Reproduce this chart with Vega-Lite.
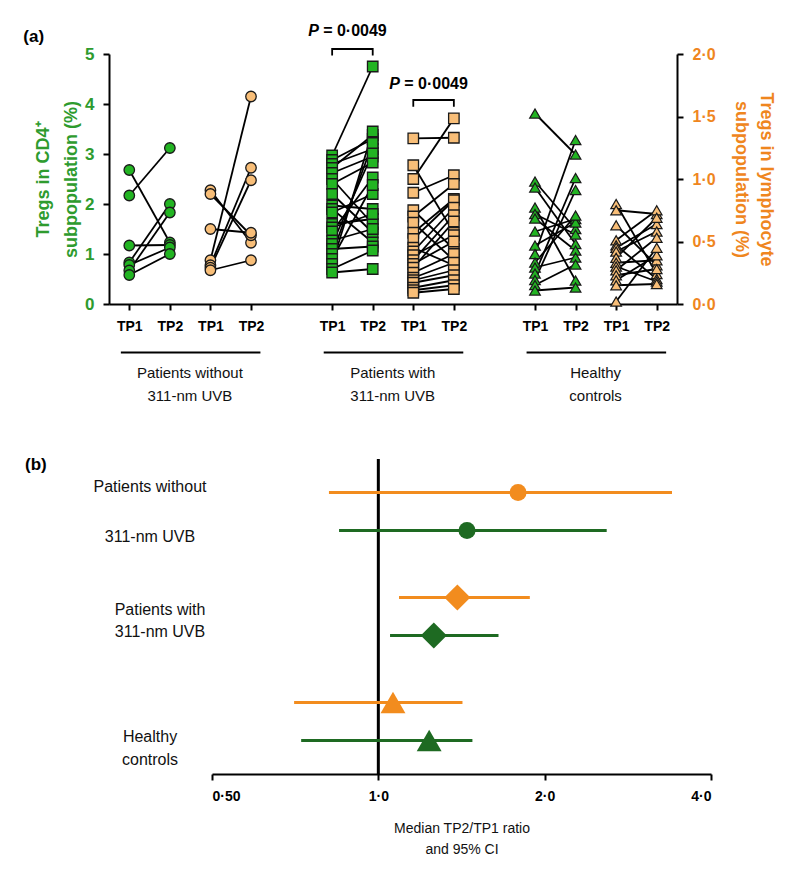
{
  "$schema": "https://vega.github.io/schema/vega-lite/v6.json",
  "background": "white",
  "padding": {"left": 23, "top": 22, "right": 5, "bottom": 5},
  "bounds": "flush",
  "spacing": 155,
  "config": {"font": "Liberation Sans", "view": {"stroke": null}},
  "datasets": {
    "cd4": [
      {"s":"w-C-TP1","g":"w","id":"w1","v":2.68},{"s":"w-C-TP2","g":"w","id":"w1","v":1.23},
      {"s":"w-C-TP1","g":"w","id":"w2","v":2.17},{"s":"w-C-TP2","g":"w","id":"w2","v":3.12},
      {"s":"w-C-TP1","g":"w","id":"w3","v":1.17},{"s":"w-C-TP2","g":"w","id":"w3","v":1.18},
      {"s":"w-C-TP1","g":"w","id":"w4","v":0.83},{"s":"w-C-TP2","g":"w","id":"w4","v":2.0},
      {"s":"w-C-TP1","g":"w","id":"w5","v":0.78},{"s":"w-C-TP2","g":"w","id":"w5","v":1.13},
      {"s":"w-C-TP1","g":"w","id":"w6","v":0.67},{"s":"w-C-TP2","g":"w","id":"w6","v":1.83},
      {"s":"w-C-TP1","g":"w","id":"w7","v":0.58},{"s":"w-C-TP2","g":"w","id":"w7","v":1.0},
      {"s":"u-C-TP1","g":"u","id":"u1","v":2.97},{"s":"u-C-TP2","g":"u","id":"u1","v":4.75},
      {"s":"u-C-TP1","g":"u","id":"u2","v":2.88},{"s":"u-C-TP2","g":"u","id":"u2","v":3.3},
      {"s":"u-C-TP1","g":"u","id":"u3","v":2.8},{"s":"u-C-TP2","g":"u","id":"u3","v":3.1},
      {"s":"u-C-TP1","g":"u","id":"u4","v":2.72},{"s":"u-C-TP2","g":"u","id":"u4","v":3.38},
      {"s":"u-C-TP1","g":"u","id":"u5","v":2.62},{"s":"u-C-TP2","g":"u","id":"u5","v":2.95},
      {"s":"u-C-TP1","g":"u","id":"u6","v":2.5},{"s":"u-C-TP2","g":"u","id":"u6","v":1.6},
      {"s":"u-C-TP1","g":"u","id":"u7","v":2.4},{"s":"u-C-TP2","g":"u","id":"u7","v":2.83},
      {"s":"u-C-TP1","g":"u","id":"u8","v":2.2},{"s":"u-C-TP2","g":"u","id":"u8","v":1.43},
      {"s":"u-C-TP1","g":"u","id":"u9","v":1.97},{"s":"u-C-TP2","g":"u","id":"u9","v":1.9},
      {"s":"u-C-TP1","g":"u","id":"u10","v":1.9},{"s":"u-C-TP2","g":"u","id":"u10","v":1.23},
      {"s":"u-C-TP1","g":"u","id":"u11","v":1.83},{"s":"u-C-TP2","g":"u","id":"u11","v":2.2},
      {"s":"u-C-TP1","g":"u","id":"u12","v":1.6},{"s":"u-C-TP2","g":"u","id":"u12","v":1.7},
      {"s":"u-C-TP1","g":"u","id":"u13","v":1.53},{"s":"u-C-TP2","g":"u","id":"u13","v":1.8},
      {"s":"u-C-TP1","g":"u","id":"u14","v":1.45},{"s":"u-C-TP2","g":"u","id":"u14","v":2.53},
      {"s":"u-C-TP1","g":"u","id":"u15","v":1.27},{"s":"u-C-TP2","g":"u","id":"u15","v":1.5},
      {"s":"u-C-TP1","g":"u","id":"u16","v":1.2},{"s":"u-C-TP2","g":"u","id":"u16","v":3.02},
      {"s":"u-C-TP1","g":"u","id":"u17","v":1.1},{"s":"u-C-TP2","g":"u","id":"u17","v":1.15},
      {"s":"u-C-TP1","g":"u","id":"u18","v":1.0},{"s":"u-C-TP2","g":"u","id":"u18","v":3.22},
      {"s":"u-C-TP1","g":"u","id":"u19","v":0.9},{"s":"u-C-TP2","g":"u","id":"u19","v":2.38},
      {"s":"u-C-TP1","g":"u","id":"u20","v":0.8},{"s":"u-C-TP2","g":"u","id":"u20","v":3.45},
      {"s":"u-C-TP1","g":"u","id":"u21","v":0.7},{"s":"u-C-TP2","g":"u","id":"u21","v":1.07},
      {"s":"u-C-TP1","g":"u","id":"u22","v":0.63},{"s":"u-C-TP2","g":"u","id":"u22","v":0.7},
      {"s":"h-C-TP1","g":"h","id":"h1","v":3.81},{"s":"h-C-TP2","g":"h","id":"h1","v":2.99},
      {"s":"h-C-TP1","g":"h","id":"h2","v":2.45},{"s":"h-C-TP2","g":"h","id":"h2","v":1.5},
      {"s":"h-C-TP1","g":"h","id":"h3","v":2.33},{"s":"h-C-TP2","g":"h","id":"h3","v":1.2},
      {"s":"h-C-TP1","g":"h","id":"h4","v":1.93},{"s":"h-C-TP2","g":"h","id":"h4","v":0.47},
      {"s":"h-C-TP1","g":"h","id":"h5","v":1.8},{"s":"h-C-TP2","g":"h","id":"h5","v":1.39},
      {"s":"h-C-TP1","g":"h","id":"h6","v":1.71},{"s":"h-C-TP2","g":"h","id":"h6","v":1.07},
      {"s":"h-C-TP1","g":"h","id":"h7","v":1.45},{"s":"h-C-TP2","g":"h","id":"h7","v":1.7},
      {"s":"h-C-TP1","g":"h","id":"h8","v":1.17},{"s":"h-C-TP2","g":"h","id":"h8","v":1.63},
      {"s":"h-C-TP1","g":"h","id":"h9","v":1.0},{"s":"h-C-TP2","g":"h","id":"h9","v":3.28},
      {"s":"h-C-TP1","g":"h","id":"h10","v":0.83},{"s":"h-C-TP2","g":"h","id":"h10","v":1.77},
      {"s":"h-C-TP1","g":"h","id":"h11","v":0.73},{"s":"h-C-TP2","g":"h","id":"h11","v":0.93},
      {"s":"h-C-TP1","g":"h","id":"h12","v":0.61},{"s":"h-C-TP2","g":"h","id":"h12","v":2.52},
      {"s":"h-C-TP1","g":"h","id":"h13","v":0.48},{"s":"h-C-TP2","g":"h","id":"h13","v":2.28},
      {"s":"h-C-TP1","g":"h","id":"h14","v":0.38},{"s":"h-C-TP2","g":"h","id":"h14","v":0.79},
      {"s":"h-C-TP1","g":"h","id":"h15","v":0.27},{"s":"h-C-TP2","g":"h","id":"h15","v":0.33}
    ],
    "lym": [
      {"s":"w-L-TP1","g":"w","id":"w1","v":0.91},{"s":"w-L-TP2","g":"w","id":"w1","v":0.49},
      {"s":"w-L-TP1","g":"w","id":"w2","v":0.88},{"s":"w-L-TP2","g":"w","id":"w2","v":0.55},
      {"s":"w-L-TP1","g":"w","id":"w3","v":0.6},{"s":"w-L-TP2","g":"w","id":"w3","v":0.57},
      {"s":"w-L-TP1","g":"w","id":"w4","v":0.35},{"s":"w-L-TP2","g":"w","id":"w4","v":1.66},
      {"s":"w-L-TP1","g":"w","id":"w5","v":0.31},{"s":"w-L-TP2","g":"w","id":"w5","v":1.09},
      {"s":"w-L-TP1","g":"w","id":"w6","v":0.29},{"s":"w-L-TP2","g":"w","id":"w6","v":0.99},
      {"s":"w-L-TP1","g":"w","id":"w7","v":0.27},{"s":"w-L-TP2","g":"w","id":"w7","v":0.35},
      {"s":"u-L-TP1","g":"u","id":"u1","v":1.325},{"s":"u-L-TP2","g":"u","id":"u1","v":1.33},
      {"s":"u-L-TP1","g":"u","id":"u2","v":1.11},{"s":"u-L-TP2","g":"u","id":"u2","v":0.57},
      {"s":"u-L-TP1","g":"u","id":"u3","v":1.0},{"s":"u-L-TP2","g":"u","id":"u3","v":1.485},
      {"s":"u-L-TP1","g":"u","id":"u4","v":0.89},{"s":"u-L-TP2","g":"u","id":"u4","v":1.03},
      {"s":"u-L-TP1","g":"u","id":"u5","v":0.75},{"s":"u-L-TP2","g":"u","id":"u5","v":0.44},
      {"s":"u-L-TP1","g":"u","id":"u6","v":0.7},{"s":"u-L-TP2","g":"u","id":"u6","v":0.96},
      {"s":"u-L-TP1","g":"u","id":"u7","v":0.65},{"s":"u-L-TP2","g":"u","id":"u7","v":0.35},
      {"s":"u-L-TP1","g":"u","id":"u8","v":0.57},{"s":"u-L-TP2","g":"u","id":"u8","v":0.84},
      {"s":"u-L-TP1","g":"u","id":"u9","v":0.52},{"s":"u-L-TP2","g":"u","id":"u9","v":0.83},
      {"s":"u-L-TP1","g":"u","id":"u10","v":0.45},{"s":"u-L-TP2","g":"u","id":"u10","v":0.31},
      {"s":"u-L-TP1","g":"u","id":"u11","v":0.42},{"s":"u-L-TP2","g":"u","id":"u11","v":0.77},
      {"s":"u-L-TP1","g":"u","id":"u12","v":0.39},{"s":"u-L-TP2","g":"u","id":"u12","v":0.55},
      {"s":"u-L-TP1","g":"u","id":"u13","v":0.35},{"s":"u-L-TP2","g":"u","id":"u13","v":0.71},
      {"s":"u-L-TP1","g":"u","id":"u14","v":0.32},{"s":"u-L-TP2","g":"u","id":"u14","v":0.5},
      {"s":"u-L-TP1","g":"u","id":"u15","v":0.29},{"s":"u-L-TP2","g":"u","id":"u15","v":0.66},
      {"s":"u-L-TP1","g":"u","id":"u16","v":0.25},{"s":"u-L-TP2","g":"u","id":"u16","v":0.4},
      {"s":"u-L-TP1","g":"u","id":"u17","v":0.21},{"s":"u-L-TP2","g":"u","id":"u17","v":0.33},
      {"s":"u-L-TP1","g":"u","id":"u18","v":0.19},{"s":"u-L-TP2","g":"u","id":"u18","v":0.27},
      {"s":"u-L-TP1","g":"u","id":"u19","v":0.17},{"s":"u-L-TP2","g":"u","id":"u19","v":0.23},
      {"s":"u-L-TP1","g":"u","id":"u20","v":0.13},{"s":"u-L-TP2","g":"u","id":"u20","v":0.19},
      {"s":"u-L-TP1","g":"u","id":"u21","v":0.11},{"s":"u-L-TP2","g":"u","id":"u21","v":0.15},
      {"s":"u-L-TP1","g":"u","id":"u22","v":0.09},{"s":"u-L-TP2","g":"u","id":"u22","v":0.12},
      {"s":"h-L-TP1","g":"h","id":"h1","v":0.8},{"s":"h-L-TP2","g":"h","id":"h1","v":0.24},
      {"s":"h-L-TP1","g":"h","id":"h2","v":0.75},{"s":"h-L-TP2","g":"h","id":"h2","v":0.72},
      {"s":"h-L-TP1","g":"h","id":"h3","v":0.63},{"s":"h-L-TP2","g":"h","id":"h3","v":0.31},
      {"s":"h-L-TP1","g":"h","id":"h4","v":0.51},{"s":"h-L-TP2","g":"h","id":"h4","v":0.75},
      {"s":"h-L-TP1","g":"h","id":"h5","v":0.47},{"s":"h-L-TP2","g":"h","id":"h5","v":0.2},
      {"s":"h-L-TP1","g":"h","id":"h6","v":0.45},{"s":"h-L-TP2","g":"h","id":"h6","v":0.64},
      {"s":"h-L-TP1","g":"h","id":"h7","v":0.42},{"s":"h-L-TP2","g":"h","id":"h7","v":0.58},
      {"s":"h-L-TP1","g":"h","id":"h8","v":0.37},{"s":"h-L-TP2","g":"h","id":"h8","v":0.69},
      {"s":"h-L-TP1","g":"h","id":"h9","v":0.33},{"s":"h-L-TP2","g":"h","id":"h9","v":0.35},
      {"s":"h-L-TP1","g":"h","id":"h10","v":0.3},{"s":"h-L-TP2","g":"h","id":"h10","v":0.18},
      {"s":"h-L-TP1","g":"h","id":"h11","v":0.27},{"s":"h-L-TP2","g":"h","id":"h11","v":0.53},
      {"s":"h-L-TP1","g":"h","id":"h12","v":0.23},{"s":"h-L-TP2","g":"h","id":"h12","v":0.28},
      {"s":"h-L-TP1","g":"h","id":"h13","v":0.19},{"s":"h-L-TP2","g":"h","id":"h13","v":0.39},
      {"s":"h-L-TP1","g":"h","id":"h14","v":0.15},{"s":"h-L-TP2","g":"h","id":"h14","v":0.16},
      {"s":"h-L-TP1","g":"h","id":"h15","v":0.02},{"s":"h-L-TP2","g":"h","id":"h15","v":0.45}
    ],
    "brkC": [
      {"s":"u-C-TP1","v":4.97,"o":1},{"s":"u-C-TP1","v":5.1,"o":2},
      {"s":"u-C-TP2","v":5.1,"o":3},{"s":"u-C-TP2","v":4.97,"o":4}
    ],
    "brkL": [
      {"s":"u-L-TP1","v":1.578,"o":1},{"s":"u-L-TP1","v":1.632,"o":2},
      {"s":"u-L-TP2","v":1.632,"o":3},{"s":"u-L-TP2","v":1.578,"o":4}
    ],
    "grpLine": [
      {"s":"w-C-TP2","s2":"w-L-TP1","v":-0.97},
      {"s":"u-C-TP2","s2":"u-L-TP1","v":-0.97},
      {"s":"h-C-TP2","s2":"h-L-TP1","v":-0.97}
    ],
    "grpTxt": [
      {"s":"w-C-TP2","v":-1.24,"t":"Patients without\n311-nm UVB"},
      {"s":"u-C-TP2","v":-1.24,"t":"Patients with\n311-nm UVB"},
      {"s":"h-C-TP2","v":-1.24,"t":"Healthy\ncontrols"}
    ],
    "forest": [
      {"grp":"without","m":"lym","est":1.79,"lo":0.814,"hi":3.4},
      {"grp":"without","m":"cd4","est":1.447,"lo":0.849,"hi":2.59},
      {"grp":"with","m":"lym","est":1.39,"lo":1.09,"hi":1.88},
      {"grp":"with","m":"cd4","est":1.26,"lo":1.05,"hi":1.65},
      {"grp":"healthy","m":"lym","est":1.063,"lo":0.704,"hi":1.42},
      {"grp":"healthy","m":"cd4","est":1.236,"lo":0.725,"hi":1.48}
    ]
  },
  "vconcat": [
    {
      "width": 568,
      "height": 250,
      "encoding": {
        "x": {
          "field": "s", "type": "ordinal",
          "scale": {"type": "point", "padding": 0.5,
            "domain": ["w-C-TP1","w-C-TP2","w-L-TP1","w-L-TP2","gap1","u-C-TP1","u-C-TP2","u-L-TP1","u-L-TP2","gap2","h-C-TP1","h-C-TP2","h-L-TP1","h-L-TP2"]},
          "axis": {
            "values": ["w-C-TP1","w-C-TP2","w-L-TP1","w-L-TP2","u-C-TP1","u-C-TP2","u-L-TP1","u-L-TP2","h-C-TP1","h-C-TP2","h-L-TP1","h-L-TP2"],
            "labelExpr": "slice(datum.value, -3)",
            "labelAngle": 0, "labelFontSize": 14, "labelFontWeight": "bold", "labelColor": "black",
            "labelPadding": 9, "tickSize": 6, "tickWidth": 2, "tickColor": "black",
            "domainColor": "black", "domainWidth": 2, "title": null, "grid": false
          }
        }
      },
      "layer": [
        {
          "encoding": {
            "y": {
              "field": "v", "type": "quantitative",
              "scale": {"domain": [0, 5], "nice": false},
              "axis": {
                "orient": "left", "values": [0,1,2,3,4,5], "format": "d", "grid": false,
                "title": ["Tregs in CD4⁺", "subpopulation (%)"],
                "titleColor": "#2E9B2E", "titleFontSize": 18, "titleFontWeight": "bold",
                "titleLineHeight": 28, "titlePadding": 4,
                "labelColor": "#2E9B2E", "labelFontSize": 17, "labelFontWeight": "bold", "labelPadding": 9,
                "tickColor": "black", "tickSize": 6, "tickWidth": 2,
                "domainColor": "black", "domainWidth": 2
              }
            }
          },
          "layer": [
            {"data": {"name": "cd4"}, "mark": {"type": "line", "color": "black", "strokeWidth": 1.8},
             "encoding": {"detail": {"field": "id"}}},
            {"data": {"name": "cd4"},
             "mark": {"type": "point", "filled": true, "fill": "#22B422", "stroke": "#1a1a1a", "strokeWidth": 1.3, "opacity": 1, "size": 110},
             "encoding": {"shape": {"field": "g", "type": "nominal", "scale": {"domain": ["w","u","h"], "range": ["circle","square","triangle-up"]}, "legend": null}}},
            {"data": {"name": "brkC"}, "mark": {"type": "line", "color": "black", "strokeWidth": 1.8},
             "encoding": {"order": {"field": "o"}}},
            {"data": {"values": [{"s": "u-C-TP1", "v": 5.47}]},
             "mark": {"type": "text", "text": "P", "fontStyle": "italic", "fontWeight": "bold", "fontSize": 16, "align": "left", "dx": -24}},
            {"data": {"values": [{"s": "u-C-TP1", "v": 5.47}]},
             "mark": {"type": "text", "text": "= 0·0049", "fontWeight": "bold", "fontSize": 16, "align": "left", "dx": -9}},
            {"data": {"name": "grpLine"}, "mark": {"type": "rule", "color": "black", "strokeWidth": 2, "xOffset": -49, "x2Offset": 50},
             "encoding": {"x2": {"field": "s2"}}},
            {"data": {"name": "grpTxt"},
             "mark": {"type": "text", "fontSize": 15, "lineBreak": "\n", "lineHeight": 23, "baseline": "top", "align": "center", "dx": 20, "color": "#111"},
             "encoding": {"text": {"field": "t"}}},
            {"data": {"values": [{"s": "w-C-TP1", "v": 5.35}]},
             "mark": {"type": "text", "text": "(a)", "fontWeight": "bold", "fontSize": 17, "align": "left", "dx": -106}}
          ]
        },
        {
          "encoding": {
            "y": {
              "field": "v", "type": "quantitative",
              "scale": {"domain": [0, 2], "nice": false},
              "axis": {
                "orient": "right", "values": [0, 0.5, 1, 1.5, 2], "grid": false,
                "labelExpr": "replace(format(datum.value, '.1f'), '.', '·')",
                "title": ["Tregs in lymphocyte", "subpopulation (%)"],
                "titleColor": "#EF861E", "titleFontSize": 18, "titleFontWeight": "bold",
                "titleLineHeight": 25, "titlePadding": 16, "titleAngle": 90,
                "labelColor": "#EF861E", "labelFontSize": 16, "labelFontWeight": "bold", "labelPadding": 9,
                "tickColor": "black", "tickSize": 6, "tickWidth": 2,
                "domainColor": "black", "domainWidth": 2
              }
            }
          },
          "layer": [
            {"data": {"name": "lym"}, "mark": {"type": "line", "color": "black", "strokeWidth": 1.8},
             "encoding": {"detail": {"field": "id"}}},
            {"data": {"name": "lym"},
             "mark": {"type": "point", "filled": true, "fill": "#F8BE78", "stroke": "#1a1a1a", "strokeWidth": 1.3, "opacity": 1, "size": 110},
             "encoding": {"shape": {"field": "g", "type": "nominal", "scale": {"domain": ["w","u","h"], "range": ["circle","square","triangle-up"]}, "legend": null}}},
            {"data": {"name": "brkL"}, "mark": {"type": "line", "color": "black", "strokeWidth": 1.8},
             "encoding": {"order": {"field": "o"}}},
            {"data": {"values": [{"s": "u-L-TP1", "v": 1.76}]},
             "mark": {"type": "text", "text": "P", "fontStyle": "italic", "fontWeight": "bold", "fontSize": 16, "align": "left", "dx": -24}},
            {"data": {"values": [{"s": "u-L-TP1", "v": 1.76}]},
             "mark": {"type": "text", "text": "= 0·0049", "fontWeight": "bold", "fontSize": 16, "align": "left", "dx": -9}}
          ]
        }
      ],
      "resolve": {"scale": {"y": "independent"}, "axis": {"y": "independent"}}
    },
    {
      "width": 602,
      "height": 315,
      "layer": [
        {
          "data": {"values": [{"k": 1}]},
          "mark": {"type": "rule", "color": "black", "strokeWidth": 3},
          "encoding": {
            "x": {"datum": 1, "type": "quantitative",
              "scale": {"type": "log", "domain": [0.5, 4], "range": [103, 602], "nice": false},
              "axis": {
                "values": [0.5, 1, 2, 4], "grid": false,
                "labelExpr": "datum.value == 0.5 ? '0·50' : replace(format(datum.value, '.1f'), '.', '·')",
                "labelFontSize": 14, "labelFontWeight": "bold", "labelColor": "black", "labelPadding": 9,
                "tickSize": 6, "tickWidth": 2, "tickColor": "black",
                "domainColor": "black", "domainWidth": 2,
                "title": ["Median TP2/TP1 ratio", "and 95% CI"],
                "titleFontSize": 14, "titleFontWeight": "normal", "titleColor": "#111",
                "titleLineHeight": 21, "titlePadding": 18
              }
            }
          }
        },
        {
          "data": {"name": "forest"},
          "mark": {"type": "rule", "strokeWidth": 3},
          "encoding": {
            "x": {"field": "lo", "type": "quantitative", "scale": {"type": "log", "domain": [0.5, 4], "range": [103, 602], "nice": false}},
            "x2": {"field": "hi"},
            "y": {"field": "grp", "type": "nominal", "scale": {"domain": ["without","with","healthy"], "paddingInner": 0, "paddingOuter": 0}, "axis": null},
            "yOffset": {"field": "m", "type": "nominal", "scale": {"domain": ["lym","cd4"], "paddingInner": 0, "paddingOuter": 0.38}},
            "color": {"field": "m", "type": "nominal", "scale": {"domain": ["lym","cd4"], "range": ["#F28C1E","#1E6A22"]}, "legend": null}
          }
        },
        {
          "data": {"name": "forest"},
          "transform": [{"filter": "datum.grp == 'without'"}],
          "mark": {"type": "point", "filled": true, "opacity": 1, "shape": "circle", "size": 290},
          "encoding": {
            "x": {"field": "est", "type": "quantitative", "scale": {"type": "log", "domain": [0.5, 4], "range": [103, 602], "nice": false}},
            "y": {"field": "grp", "type": "nominal", "scale": {"domain": ["without","with","healthy"], "paddingInner": 0, "paddingOuter": 0}, "axis": null},
            "yOffset": {"field": "m", "type": "nominal", "scale": {"domain": ["lym","cd4"], "paddingInner": 0, "paddingOuter": 0.38}},
            "color": {"field": "m", "type": "nominal", "scale": {"domain": ["lym","cd4"], "range": ["#F28C1E","#1E6A22"]}, "legend": null}
          }
        },
        {
          "data": {"name": "forest"},
          "transform": [{"filter": "datum.grp == 'with'"}],
          "mark": {"type": "point", "filled": true, "opacity": 1, "shape": "diamond", "size": 680},
          "encoding": {
            "x": {"field": "est", "type": "quantitative", "scale": {"type": "log", "domain": [0.5, 4], "range": [103, 602], "nice": false}},
            "y": {"field": "grp", "type": "nominal", "scale": {"domain": ["without","with","healthy"], "paddingInner": 0, "paddingOuter": 0}, "axis": null},
            "yOffset": {"field": "m", "type": "nominal", "scale": {"domain": ["lym","cd4"], "paddingInner": 0, "paddingOuter": 0.38}},
            "color": {"field": "m", "type": "nominal", "scale": {"domain": ["lym","cd4"], "range": ["#F28C1E","#1E6A22"]}, "legend": null}
          }
        },
        {
          "data": {"name": "forest"},
          "transform": [{"filter": "datum.grp == 'healthy'"}],
          "mark": {"type": "point", "filled": true, "opacity": 1, "shape": "triangle-up", "size": 620},
          "encoding": {
            "x": {"field": "est", "type": "quantitative", "scale": {"type": "log", "domain": [0.5, 4], "range": [103, 602], "nice": false}},
            "y": {"field": "grp", "type": "nominal", "scale": {"domain": ["without","with","healthy"], "paddingInner": 0, "paddingOuter": 0}, "axis": null},
            "yOffset": {"field": "m", "type": "nominal", "scale": {"domain": ["lym","cd4"], "paddingInner": 0, "paddingOuter": 0.38}},
            "color": {"field": "m", "type": "nominal", "scale": {"domain": ["lym","cd4"], "range": ["#F28C1E","#1E6A22"]}, "legend": null}
          }
        },
        {
          "data": {"values": [{"k": 1}]},
          "mark": {"type": "text", "text": "Patients without\n311-nm UVB", "lineBreak": "\n", "lineHeight": 50, "fontSize": 16, "align": "center", "baseline": "middle", "dx": -62, "dy": -25, "color": "#111"},
          "encoding": {
            "x": {"datum": 0.5, "type": "quantitative", "scale": {"type": "log", "domain": [0.5, 4], "range": [103, 602], "nice": false}},
            "y": {"datum": "without", "type": "nominal", "scale": {"domain": ["without","with","healthy"], "paddingInner": 0, "paddingOuter": 0}, "axis": null}
          }
        },
        {
          "data": {"values": [{"k": 1}]},
          "mark": {"type": "text", "text": "Patients with\n311-nm UVB", "lineBreak": "\n", "lineHeight": 22, "fontSize": 16, "align": "center", "baseline": "middle", "dx": -52, "dy": -7, "color": "#111"},
          "encoding": {
            "x": {"datum": 0.5, "type": "quantitative", "scale": {"type": "log", "domain": [0.5, 4], "range": [103, 602], "nice": false}},
            "y": {"datum": "with", "type": "nominal", "scale": {"domain": ["without","with","healthy"], "paddingInner": 0, "paddingOuter": 0}, "axis": null}
          }
        },
        {
          "data": {"values": [{"k": 1}]},
          "mark": {"type": "text", "text": "Healthy\ncontrols", "lineBreak": "\n", "lineHeight": 23, "fontSize": 16, "align": "center", "baseline": "middle", "dx": -62, "dy": 15, "color": "#111"},
          "encoding": {
            "x": {"datum": 0.5, "type": "quantitative", "scale": {"type": "log", "domain": [0.5, 4], "range": [103, 602], "nice": false}},
            "y": {"datum": "healthy", "type": "nominal", "scale": {"domain": ["without","with","healthy"], "paddingInner": 0, "paddingOuter": 0}, "axis": null}
          }
        },
        {
          "data": {"values": [{"k": 1}]},
          "mark": {"type": "text", "text": "(b)", "fontWeight": "bold", "fontSize": 17, "align": "left", "baseline": "middle", "dx": -187, "dy": -47},
          "encoding": {
            "x": {"datum": 0.5, "type": "quantitative", "scale": {"type": "log", "domain": [0.5, 4], "range": [103, 602], "nice": false}},
            "y": {"datum": "without", "type": "nominal", "scale": {"domain": ["without","with","healthy"], "paddingInner": 0, "paddingOuter": 0}, "axis": null}
          }
        }
      ]
    }
  ]
}
